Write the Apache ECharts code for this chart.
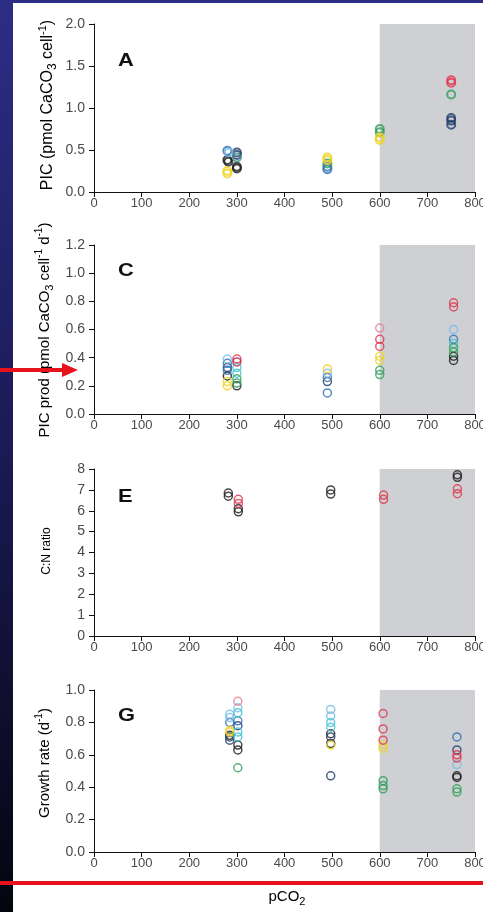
<!DOCTYPE html>
<html>
<head>
<meta charset="utf-8">
<script src="https://cdn.jsdelivr.net/npm/echarts@6/dist/echarts.min.js"></script>
<style>
  html, body { margin: 0; padding: 0; background: #ffffff; overflow: hidden; }
  #chart { width: 483px; height: 912px; }
</style>
</head>
<body>
<div id="chart"></div>
<script>
// pCO2 axis ticks shared by all four panels
const xTicks = [0, 100, 200, 300, 400, 500, 600, 700, 800];

// Panel A: PIC per cell (pmol CaCO3 cell-1)
const picBlack    = [[280, 0.38], [282, 0.36], [300, 0.30], [300, 0.28]];
const picNavy     = [[300, 0.47], [300, 0.44], [750, 0.88], [750, 0.85], [750, 0.80]];
const picBlue     = [[280, 0.49], [490, 0.30], [490, 0.27]];
const picLightBlue= [[283, 0.47]];
const picTeal     = [[300, 0.41]];
const picGreen    = [[490, 0.34], [600, 0.75], [600, 0.71], [750, 1.16]];
const picYellow   = [[280, 0.25], [280, 0.22], [490, 0.41], [490, 0.38], [600, 0.65], [600, 0.62]];
const picRed      = [[750, 1.33], [750, 1.30]];

// Panel C: PIC production (pmol CaCO3 cell-1 d-1)
const prodBlack    = [[280, 0.27], [300, 0.20], [755, 0.41], [755, 0.38]];
const prodNavy     = [[280, 0.33], [490, 0.23]];
const prodBlue     = [[280, 0.36], [280, 0.31], [490, 0.26], [490, 0.15], [755, 0.53]];
const prodLightBlue= [[280, 0.39], [490, 0.29], [755, 0.60]];
const prodCyan     = [[300, 0.33], [300, 0.29], [755, 0.50]];
const prodGreen    = [[300, 0.25], [300, 0.22], [600, 0.31], [600, 0.28], [755, 0.47], [755, 0.44]];
const prodYellow   = [[280, 0.23], [280, 0.20], [490, 0.32], [600, 0.41], [600, 0.38]];
const prodRed      = [[300, 0.39], [600, 0.53], [600, 0.48], [755, 0.79], [755, 0.76]];
const prodDarkRed  = [[300, 0.37]];
const prodPink     = [[600, 0.61]];

// Panel E: C:N ratio
const cnBlack = [[282, 6.85], [282, 6.70], [303, 6.10], [303, 5.95], [497, 7.00], [497, 6.80], [763, 7.72], [763, 7.60]];
const cnRed   = [[303, 6.55], [303, 6.35], [608, 6.75], [608, 6.55], [763, 7.05], [763, 6.82]];

// Panel G: growth rate (d-1)
const grBlack    = [[285, 0.72], [302, 0.66], [302, 0.63], [497, 0.73], [497, 0.67], [762, 0.47], [762, 0.46]];
const grNavy     = [[285, 0.71], [285, 0.69], [302, 0.78], [497, 0.71], [497, 0.47], [762, 0.63]];
const grBlue     = [[285, 0.80], [302, 0.81], [762, 0.71]];
const grLightBlue= [[285, 0.85], [285, 0.83], [302, 0.89], [497, 0.88], [497, 0.84], [762, 0.54]];
const grCyan     = [[302, 0.86], [302, 0.74], [302, 0.71], [497, 0.80], [497, 0.77]];
const grGreen    = [[302, 0.52], [607, 0.44], [607, 0.41], [607, 0.39], [762, 0.39], [762, 0.37]];
const grYellow   = [[285, 0.75], [285, 0.74], [497, 0.66], [607, 0.66], [607, 0.64]];
const grRed      = [[607, 0.855], [607, 0.76], [607, 0.69], [762, 0.60], [762, 0.58]];
const grPink     = [[302, 0.93]];

const COLORS = {
  black: '#1b1b1b', navy: '#1f3b6b', blue: '#2c6db3', lightBlue: '#78bce8',
  cyan: '#3ec3d2', teal: '#3f8f86', green: '#2e9f58', yellow: '#efd11c',
  red: '#e0344c', darkRed: '#b0234a', pink: '#e57c98'
};

const panels = [
  { letter: 'A', letterY: 61, top: 24, height: 168, yMax: 2, yStep: 0.5, digits: 1,
    groups: [['black', picBlack], ['navy', picNavy], ['blue', picBlue], ['lightBlue', picLightBlue],
             ['teal', picTeal], ['green', picGreen], ['yellow', picYellow], ['red', picRed]] },
  { letter: 'C', letterY: 271, top: 245, height: 169, yMax: 1.2, yStep: 0.2, digits: 1,
    groups: [['black', prodBlack], ['navy', prodNavy], ['blue', prodBlue], ['lightBlue', prodLightBlue],
             ['cyan', prodCyan], ['green', prodGreen], ['yellow', prodYellow], ['red', prodRed],
             ['darkRed', prodDarkRed], ['pink', prodPink]] },
  { letter: 'E', letterY: 497, top: 469, height: 167, yMax: 8, yStep: 1, digits: 0,
    groups: [['black', cnBlack], ['red', cnRed]] },
  { letter: 'G', letterY: 716, top: 690, height: 162, yMax: 1, yStep: 0.2, digits: 1,
    groups: [['black', grBlack], ['navy', grNavy], ['blue', grBlue], ['lightBlue', grLightBlue],
             ['cyan', grCyan], ['green', grGreen], ['yellow', grYellow], ['red', grRed], ['pink', grPink]] }
];

const FONT = '"Liberation Sans", Arial, Helvetica, sans-serif';
const LABEL_COLOR = '#4a4a4a';

const grids = [], xAxes = [], yAxes = [], series = [];
panels.forEach((p, i) => {
  grids.push({ left: 94, width: 381, top: p.top, height: p.height, containLabel: false, outerBoundsMode: 'none' });
  xAxes.push({
    type: 'value', gridIndex: i, min: xTicks[0], max: xTicks[xTicks.length - 1],
    interval: xTicks[1] - xTicks[0],
    axisLine: { lineStyle: { color: '#111', width: 1 } },
    axisTick: { show: true, length: 5, lineStyle: { color: '#111' } },
    splitLine: { show: false },
    axisLabel: { color: LABEL_COLOR, fontSize: 13, fontFamily: FONT, margin: 5,
                 showMaxLabel: true, hideOverlap: false }
  });
  yAxes.push({
    type: 'value', gridIndex: i, min: 0, max: p.yMax, interval: p.yStep,
    axisLine: { show: true, lineStyle: { color: '#111', width: 1 } },
    axisTick: { show: true, length: 5, lineStyle: { color: '#111' } },
    splitLine: { show: false },
    axisLabel: { color: LABEL_COLOR, fontSize: 14, fontFamily: FONT, margin: 9,
                 formatter: v => v.toFixed(p.digits) }
  });
  // shaded high-pCO2 band
  series.push({
    type: 'scatter', xAxisIndex: i, yAxisIndex: i, data: [], z: 1, silent: true,
    markArea: {
      silent: true,
      itemStyle: { color: '#cfd0d3', opacity: 1 },
      data: [[{ xAxis: 600 }, { xAxis: 800 }]]
    }
  });
  p.groups.forEach(([c, data]) => {
    series.push({
      type: 'scatter', xAxisIndex: i, yAxisIndex: i, data: data, z: 3,
      symbol: 'circle', symbolSize: 8,
      itemStyle: { color: 'rgba(255,255,255,0)', borderColor: COLORS[c], borderWidth: i === 0 ? 2 : 1.5 }
    });
  });
});

const rich = (size) => ({
  n: { fontSize: size, lineHeight: size + 6, fontFamily: FONT, color: LABEL_COLOR },
  sub: { fontSize: size - 4, fontFamily: FONT, color: LABEL_COLOR, verticalAlign: 'bottom' },
  sup: { fontSize: size - 5, fontFamily: FONT, color: LABEL_COLOR, verticalAlign: 'top' }
});
const yNames = [
  { text: '{n|PIC (pmol CaCO}{sub|3}{n| cell}{sup|-1}{n|)}', x: 48, y: 105, size: 16 },
  { text: '{n|PIC prod (pmol CaCO}{sub|3}{n| cell}{sup|-1}{n| d}{sup|-1}{n|)}', x: 45, y: 330, size: 15 },
  { text: '{n|C:N ratio}', x: 47, y: 551, size: 12 },
  { text: '{n|Growth rate (d}{sup|-1}{n|)}', x: 45, y: 763, size: 15 }
];

const graphic = [
  // slide frame: dark left strip and top edge
  { type: 'rect', left: 0, top: 0, shape: { width: 13, height: 912 }, z: 10,
    style: { fill: { type: 'linear', x: 0, y: 0, x2: 0, y2: 1,
      colorStops: [{ offset: 0, color: '#2d2d86' }, { offset: 0.5, color: '#1a1a55' }, { offset: 1, color: '#05050f' }] } } },
  { type: 'rect', left: 0, top: 0, shape: { width: 483, height: 3 }, z: 10, style: { fill: '#2d2d86' } },
  // pointer arrow and underline
  { type: 'line', shape: { x1: 0, y1: 370, x2: 65, y2: 370 }, z: 20, style: { stroke: '#e8121c', lineWidth: 4 } },
  { type: 'polygon', shape: { points: [[62, 363], [78, 370], [62, 377]] }, z: 20, style: { fill: '#e8121c' } },
  { type: 'rect', left: 0, top: 881, shape: { width: 483, height: 4 }, z: 20, style: { fill: '#e8121c' } },
  // x-axis title
  { type: 'text', x: 287, y: 897, z: 15,
    style: { text: '{n|pCO}{sub|2}', rich: rich(15), align: 'center', verticalAlign: 'middle' } }
];
panels.forEach((p, i) => {
  graphic.push({ type: 'text', x: 118, y: p.letterY, scaleX: 1.15, z: 15,
    style: { text: p.letter, font: 'bold 19px ' + FONT, fill: '#111', verticalAlign: 'middle' } });
  const yn = yNames[i];
  graphic.push({ type: 'text', x: yn.x, y: yn.y, rotation: Math.PI / 2, z: 15,
    style: { text: yn.text, rich: rich(yn.size), align: 'center', verticalAlign: 'middle' } });
});

const chart = echarts.init(document.getElementById('chart'), null, { renderer: 'canvas' });
chart.setOption({
  backgroundColor: '#ffffff',
  animation: false,
  grid: grids, xAxis: xAxes, yAxis: yAxes, series: series, graphic: graphic
});
</script>
</body>
</html>
